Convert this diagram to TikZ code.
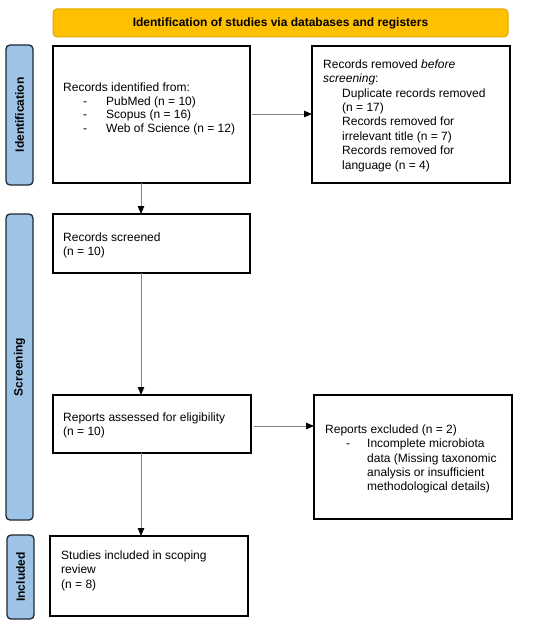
\documentclass[tikz,border=0pt]{standalone}
\usepackage{fontspec}
\setmainfont{Liberation Sans}
\usetikzlibrary{arrows.meta}
\definecolor{banfill}{HTML}{FFC000}
\definecolor{banedge}{HTML}{E0A800}
\definecolor{sidefill}{HTML}{9DC3E6}
\definecolor{sideedge}{HTML}{1E2832}
\definecolor{arrgray}{HTML}{808080}
\newcommand\fl{\rule{0pt}{9pt}}
\begin{document}
\begin{tikzpicture}[x=1pt,y=-1pt,
  box/.style={draw=black, line width=1.2pt, fill=white, inner sep=0pt, outer sep=0pt, anchor=north west},
  banner/.style={draw=banedge, line width=1pt, fill=banfill, rounded corners=4pt, inner sep=0pt, outer sep=0pt, anchor=north west},
  side/.style={draw=sideedge, line width=1.3pt, fill=sidefill, rounded corners=4pt, inner sep=0pt, outer sep=0pt, anchor=north west},
  sidetxt/.style={rotate=90, inner sep=0pt, font=\fontsize{12}{14.4}\selectfont\bfseries},
  txt/.style={anchor=north west, inner sep=0pt, align=left, font=\fontsize{12}{14.4}\selectfont},
  arr/.style={draw=arrgray, line width=0.9pt, -{Triangle[length=8pt,width=6.5pt,color=black]}}]
\useasboundingbox (0,0) rectangle (550,626);
\fill[white] (0,0) rectangle (550,626);

% banner
\node[banner, minimum width=455pt, minimum height=28pt] (ban) at (53,9) {};
\node[inner sep=0pt, font=\fontsize{12}{14.4}\selectfont\bfseries] (bantxt) at (ban.center) {Identification of studies via databases and registers};

% side labels
\node[side, minimum width=27pt, minimum height=140pt] (lid) at (6,45) {};
\node[sidetxt] (lidt) at (lid.center) {Identification};
\node[side, minimum width=27pt, minimum height=306pt] (lsc) at (6,214) {};
\node[sidetxt] (lsct) at (lsc.center) {Screening};
\node[side, minimum width=27pt, minimum height=84pt] (lin) at (7,535) {};
\node[sidetxt] (lint) at (lin.center) {Included};

% boxes
\node[box, minimum width=197pt, minimum height=137pt] (b1) at (53,46) {};
\node[box, minimum width=198pt, minimum height=137pt] (b2) at (312,46) {};
\node[box, minimum width=197pt, minimum height=59pt] (scr) at (53,214) {};
\node[box, minimum width=198pt, minimum height=58pt] (rep) at (53,395) {};
\node[box, minimum width=198pt, minimum height=124pt] (exc) at (314,395) {};
\node[box, minimum width=198pt, minimum height=80pt] (inc) at (50,536) {};

% texts
\node[txt, font=\fontsize{12}{13.8}\selectfont] (t1) at (63,82) {\fl Records identified from:\\
\hspace*{20pt}\makebox[23pt][l]{-}PubMed (n = 10)\\
\hspace*{20pt}\makebox[23pt][l]{-}Scopus (n = 16)\\
\hspace*{20pt}\makebox[23pt][l]{-}Web of Science (n = 12)};

\node[txt] (t2) at (323,59) {\fl Records removed \textit{before}\\
\textit{screening}:\\
\hspace*{19pt}Duplicate records removed\\
\hspace*{19pt}(n = 17)\\
\hspace*{19pt}Records removed for\\
\hspace*{19pt}irrelevant title (n = 7)\\
\hspace*{19pt}Records removed for\\
\hspace*{19pt}language (n = 4)};

\node[txt] (t3) at (63,232) {\fl Records screened\\(n = 10)};
\node[txt] (t4) at (63,412) {\fl Reports assessed for eligibility\\(n = 10)};
\node[txt] (t5) at (325,424) {\fl Reports excluded (n = 2)\\
\hspace*{21pt}\makebox[21pt][l]{-}Incomplete microbiota\\
\hspace*{42pt}data (Missing taxonomic\\
\hspace*{42pt}analysis or insufficient\\
\hspace*{42pt}methodological details)};
\node[txt] (t6) at (61,550) {\fl Studies included in scoping\\review\\(n = 8)};

% connectors
\coordinate (col) at (141,0);
\coordinate (rowa) at (0,114);
\coordinate (rowb) at (0,426);
\draw[arr, shorten <=2pt] (b1.east |- rowa) -- (b2.west |- rowa);
\draw[arr, shorten <=3pt] (rep.east |- rowb) -- (exc.west |- rowb);
\draw[arr] (b1.south -| col) -- (scr.north -| col);
\draw[arr] (scr.south -| col) -- (rep.north -| col);
\draw[arr] (rep.south -| col) -- (inc.north -| col);
\end{tikzpicture}
\end{document}
